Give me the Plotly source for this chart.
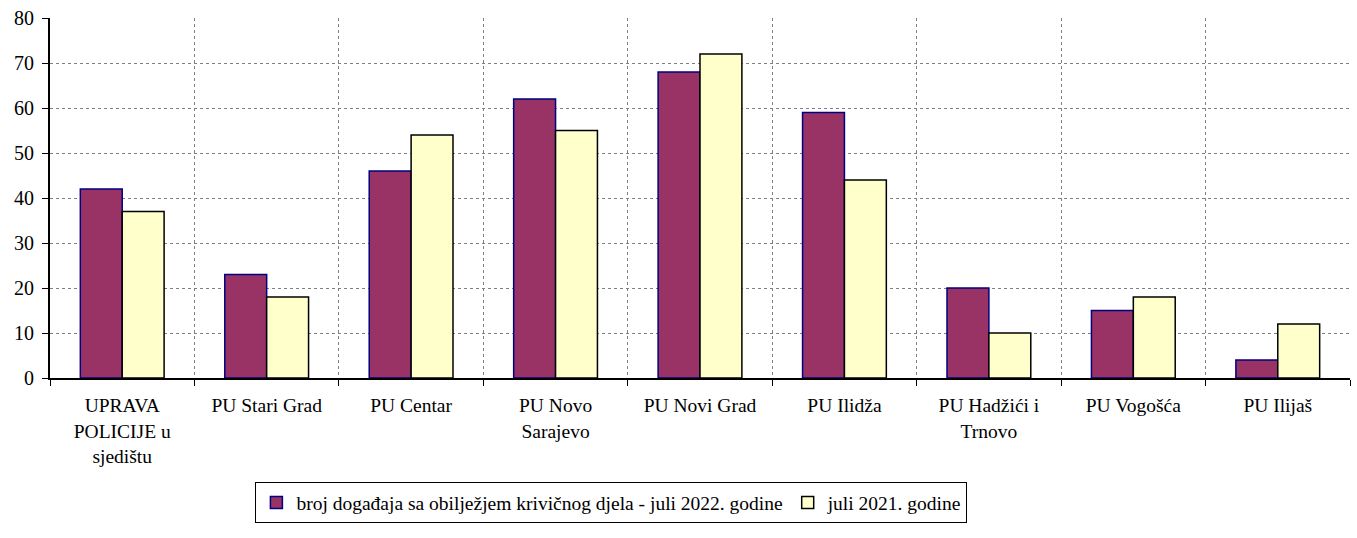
import plotly.graph_objects as go

categories = ["UPRAVA<br>POLICIJE u<br>sjedištu", "PU Stari Grad", "PU Centar", "PU Novo<br>Sarajevo",
              "PU Novi Grad", "PU Ilidža", "PU Hadžići i<br>Trnovo", "PU Vogošća", "PU Ilijaš"]
series_2022 = [42, 23, 46, 62, 68, 59, 20, 15, 4]
series_2021 = [37, 18, 54, 55, 72, 44, 10, 18, 12]
name_2022 = "broj događaja sa obilježjem krivičnog djela - juli 2022. godine"
name_2021 = "juli 2021. godine"
y_ticks = [0, 10, 20, 30, 40, 50, 60, 70, 80]

FONT = "Times New Roman, Liberation Serif, DejaVu Serif, serif"

fig = go.Figure()
fig.add_trace(go.Bar(x=categories, y=series_2022, name=name_2022,
                     marker=dict(color="#993366", line=dict(color="#000080", width=1.5))))
fig.add_trace(go.Bar(x=categories, y=series_2021, name=name_2021,
                     marker=dict(color="#FFFFCC", line=dict(color="#000000", width=1.5))))

fig.update_layout(
    width=1357, height=538,
    margin=dict(l=50, r=7, t=16, b=160),
    paper_bgcolor="white", plot_bgcolor="white",
    barmode="group", bargap=0.42, bargroupgap=0,
    font=dict(family=FONT, size=20, color="black"),
    showlegend=True,
    legend=dict(orientation="h", x=0.158, y=-0.29, xanchor="left", yanchor="top",
                bordercolor="black", borderwidth=1, font=dict(family=FONT, size=19.5),
                itemwidth=30, tracegroupgap=0),
)
fig.update_xaxes(
    type="category", tickson="boundaries", ticks="outside", ticklen=6, tickcolor="black",
    showline=True, linecolor="black", linewidth=2,
    showgrid=True, gridcolor="#808080", griddash="dot", gridwidth=1,
    ticklabelstandoff=9, tickfont=dict(family=FONT, size=19.5),
)
fig.update_yaxes(
    range=[0, 80], tickvals=y_ticks, ticks="outside", ticklen=6, tickcolor="black",
    showline=True, linecolor="black", linewidth=2,
    showgrid=True, gridcolor="#808080", griddash="dot", gridwidth=1,
    zeroline=False, tickfont=dict(family=FONT, size=20), ticklabelstandoff=4,
)
fig.write_html("out.html", config={"displayModeBar": False},
               post_script="document.body.style.margin='0';document.body.style.overflow='hidden';")
